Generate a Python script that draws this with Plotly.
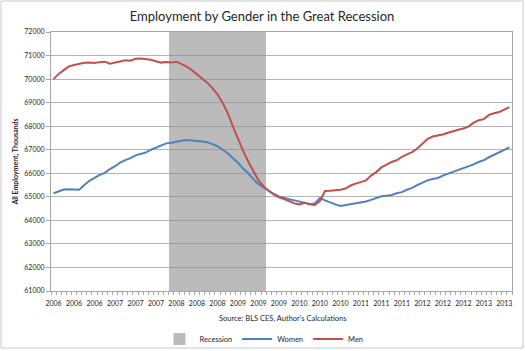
import plotly.graph_objects as go

# Monthly data, Jan 2006 .. Jun 2013 (90 months)
month_index = list(range(90))

men = [70000, 70220, 70380, 70540, 70600, 70650, 70690, 70700, 70680, 70720,
       70740, 70650, 70700, 70760, 70800, 70780, 70860, 70870, 70860, 70820,
       70760, 70700, 70730, 70700, 70740, 70650, 70530, 70380, 70200, 70020,
       69850, 69620, 69350, 69000, 68550, 68000, 67450, 66950, 66500, 66100,
       65700, 65450, 65250, 65100, 64980, 64900, 64800, 64720, 64680, 64750,
       64680, 64650, 64820, 65250, 65260, 65270, 65300, 65350, 65480, 65560,
       65620, 65700, 65900, 66050, 66250, 66380, 66480, 66550, 66700, 66800,
       66900, 67050, 67250, 67450, 67560, 67600, 67650, 67720, 67800, 67850,
       67900, 67980, 68150, 68250, 68300, 68480, 68550, 68600, 68700, 68810]

women = [65150, 65220, 65310, 65320, 65300, 65300, 65500, 65680, 65800, 65930,
         66020, 66180, 66300, 66450, 66560, 66640, 66760, 66820, 66880, 67000,
         67080, 67180, 67270, 67300, 67350, 67380, 67410, 67400, 67380, 67350,
         67320, 67250, 67150, 67000, 66850, 66650, 66450, 66200, 66000, 65750,
         65550, 65400, 65250, 65120, 65020, 64950, 64900, 64850, 64800, 64750,
         64700, 64720, 64950, 64850, 64750, 64680, 64610, 64650, 64700, 64720,
         64750, 64800, 64870, 64950, 65020, 65050, 65080, 65150, 65200, 65300,
         65380, 65500, 65600, 65700, 65760, 65800, 65900, 65980, 66050, 66120,
         66200, 66300, 66380, 66480, 66560, 66680, 66780, 66880, 67000, 67100]

# Recession months (Dec 2007 .. Jun 2009) drawn as full-height columns
recession = [0] * 23 + [72000] * 19 + [0] * 48

tick_positions = [0, 4, 8, 12, 16, 20, 24, 28, 32, 36, 40, 44, 48, 52, 56, 60,
                  64, 68, 72, 76, 80, 84, 88]
tick_labels = ["2006", "2006", "2006", "2007", "2007", "2007", "2008", "2008",
               "2008", "2009", "2009", "2009", "2010", "2010", "2010", "2011",
               "2011", "2011", "2012", "2012", "2012", "2013", "2013"]
month_bounds = [i - 0.5 for i in range(91)]

FONT = "Lato"
W, H = 525, 351
L, R, T, B = 51, 13, 32, 60
pw, ph = W - L - R, H - T - B

fig = go.Figure()
fig.add_trace(go.Bar(x=month_index, y=recession, name="Recession", width=1.0,
                     marker=dict(color="#8f8f8f", line=dict(width=0)),
                     opacity=0.6, hoverinfo="skip"))
fig.add_trace(go.Scatter(x=month_index, y=women, name="Women", mode="lines",
                         line=dict(color="#4F81BD", width=2)))
fig.add_trace(go.Scatter(x=month_index, y=men, name="Men", mode="lines",
                         line=dict(color="#C0504D", width=2)))

def px_x(px):
    return (px - L) / pw

def px_y(py):
    return (H - B - py) / ph

fig.update_layout(
    width=W, height=H,
    margin=dict(l=L, r=R, t=T, b=B, autoexpand=False),
    paper_bgcolor="white", plot_bgcolor="white",
    font=dict(family=FONT, color="#262626"),
    bargap=0,
    title=dict(text="Employment by Gender in the Great Recession",
               xref="container", x=262 / W, xanchor="center",
               yref="container", y=1 - 16 / H, yanchor="middle",
               font=dict(size=13, family=FONT, color="#262626")),
    xaxis=dict(range=[-0.5, 89.5], tickmode="array", tickvals=tick_positions,
               ticktext=tick_labels, ticks="", showgrid=False,
               tickfont=dict(size=7), showline=True, linecolor="#a6a6a6",
               mirror=True, zeroline=False, automargin=False,
               ticklabelstandoff=6,
               minor=dict(tickmode="array", tickvals=month_bounds,
                          ticks="outside", ticklen=3, tickcolor="#a6a6a6",
                          showgrid=False)),
    yaxis=dict(range=[61000, 72000], dtick=1000, tick0=61000,
               tickformat="d", tickfont=dict(size=7), automargin=False,
               ticks="outside", ticklen=4, tickcolor="#a6a6a6",
               showgrid=True, gridcolor="#b3b3b3", gridwidth=1,
               showline=True, linecolor="#a6a6a6", mirror=True, zeroline=False,
               title=dict(text="<b>All Employment, Thousands</b>",
                          font=dict(size=7), standoff=4)),
    showlegend=True,
    legend=dict(orientation="h", x=px_x(264), xanchor="center",
                y=px_y(339), yanchor="middle", font=dict(size=7.5),
                itemwidth=30, bgcolor="rgba(0,0,0,0)"),
    annotations=[dict(text="Source: BLS CES, Author's Calculations",
                      xref="paper", yref="paper", x=px_x(282), y=px_y(318),
                      xanchor="center", yanchor="middle", showarrow=False,
                      font=dict(size=7.5, family=FONT, color="#262626"))],
    shapes=[dict(type="rect", xref="paper", yref="paper",
                 x0=px_x(1), x1=px_x(523), y0=px_y(348), y1=px_y(1),
                 line=dict(color="#c8c8c8", width=1), layer="below")],
)

fig.write_html("out.html")
